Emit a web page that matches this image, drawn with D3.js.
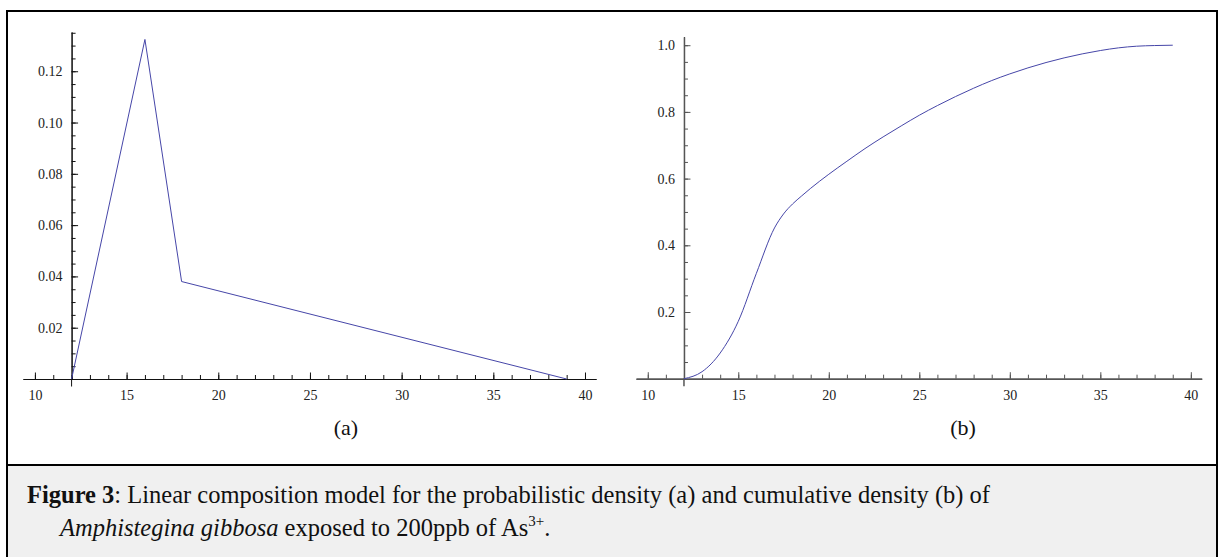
<!DOCTYPE html>
<html>
<head>
<meta charset="utf-8">
<script src="https://cdn.jsdelivr.net/npm/d3@7"></script>
<style>
  body { margin: 0; background: #fff; }
  svg { display: block; font-family: "Liberation Serif", "Times New Roman", serif; }
  .tick text { fill: #222; }
  .caption { font-family: "Liberation Serif", serif; fill: #111; }
</style>
</head>
<body>
<svg id="fig" width="1220" height="557"></svg>
<script>
// density (a): piecewise linear model
const densX = [12, 16, 18, 39];
const densY = [0, 0.1324, 0.038, 0];

// cumulative (b)
const cumX = [12, 13, 14, 15, 16, 17, 17.5, 18, 18.5, 19, 20, 21, 22, 23, 24, 25, 26, 27, 28, 29, 30, 31, 32, 33, 34, 35, 36, 37, 38, 39];
const cumY = [0, 0.021, 0.077, 0.172, 0.316, 0.452, 0.494, 0.524, 0.548, 0.571, 0.613, 0.652, 0.690, 0.725, 0.758, 0.790, 0.819, 0.846, 0.871, 0.894, 0.914, 0.932, 0.948, 0.962, 0.974, 0.984, 0.992, 0.997, 0.999, 1.0];

const xMajor = [10, 15, 20, 25, 30, 35, 40];
const densTicks = [0.02, 0.04, 0.06, 0.08, 0.10, 0.12];
const cumTicks = [0.2, 0.4, 0.6, 0.8, 1.0];

const svg = d3.select('#fig');

// caption background + frame
svg.append('rect')
  .attr('x', 7).attr('y', 465).attr('width', 1210).attr('height', 92)
  .attr('fill', '#f0f0f0');

const frame = svg.append('g').attr('stroke', '#000').attr('stroke-width', 2);
frame.append('line').attr('x1', 6).attr('x2', 1218).attr('y1', 11).attr('y2', 11);
frame.append('line').attr('x1', 7).attr('x2', 7).attr('y1', 10).attr('y2', 557);
frame.append('line').attr('x1', 1217).attr('x2', 1217).attr('y1', 10).attr('y2', 557);
frame.append('line').attr('x1', 6).attr('x2', 1218).attr('y1', 465).attr('y2', 465);

function panel(opt) {
  const x = d3.scaleLinear().domain([9.35, 40.6]).range(opt.xRange);
  const y = d3.scaleLinear().domain([0, opt.yMax]).range(opt.yRange);
  const g = svg.append('g');
  const y0 = y(0), x0 = x(12);

  // x axis: minor then major (ticks pointing up)
  g.append('g')
    .attr('transform', `translate(0,${y0})`)
    .call(d3.axisBottom(x).tickValues(d3.range(10, 41, 1)).tickSizeInner(-4).tickSizeOuter(0).tickFormat(''))
    .call(a => a.selectAll('line').attr('stroke', opt.axisColor));
  g.append('g')
    .attr('transform', `translate(0,${y0})`)
    .call(d3.axisBottom(x).tickValues(xMajor).tickSizeInner(-6.5).tickSizeOuter(0).tickPadding(11).tickFormat(d3.format('d')))
    .call(a => a.select('.domain').attr('stroke', opt.axisColor).attr('stroke-width', opt.axisWidth))
    .call(a => a.selectAll('line').attr('stroke', opt.axisColor))
    .call(a => a.selectAll('text').attr('font-size', 14).attr('font-family', 'Liberation Serif'));

  // y axis
  g.append('g')
    .attr('transform', `translate(${x0},0)`)
    .call(d3.axisLeft(y).tickValues(opt.minor).tickSizeInner(-4).tickSizeOuter(0).tickFormat(''))
    .call(a => a.selectAll('line').attr('stroke', opt.axisColor));
  g.append('g')
    .attr('transform', `translate(${x0},0)`)
    .call(d3.axisLeft(y).tickValues(opt.major).tickSizeInner(-6.5).tickSizeOuter(0).tickPadding(9).tickFormat(d3.format(opt.fmt)))
    .call(a => a.select('.domain').attr('stroke', opt.axisColor).attr('stroke-width', opt.axisWidth))
    .call(a => a.selectAll('line').attr('stroke', opt.axisColor))
    .call(a => a.selectAll('text').attr('font-size', 14).attr('font-family', 'Liberation Serif'));
  g.append('line')
    .attr('x1', x0).attr('x2', x0).attr('y1', y0).attr('y2', y0 + 7.5)
    .attr('stroke', opt.axisColor).attr('stroke-width', opt.axisWidth);

  const line = d3.line().x(d => x(d[0])).y(d => y(d[1])).curve(opt.curve);
  g.append('path')
    .datum(d3.zip(opt.xs, opt.ys))
    .attr('d', line)
    .attr('fill', 'none')
    .attr('stroke', '#4646a8')
    .attr('stroke-width', 1);

  svg.append('text')
    .attr('x', opt.labelX).attr('y', 435)
    .attr('text-anchor', 'middle')
    .attr('font-size', 22)
    .attr('fill', '#111')
    .text(opt.label);
}

panel({
  xRange: [23, 596], yRange: [379, 32], yMax: 0.1353,
  major: densTicks, minor: d3.range(0.005, 0.136, 0.005), fmt: '.2f',
  xs: densX, ys: densY, curve: d3.curveLinear,
  axisColor: '#111', axisWidth: 1, label: '(a)', labelX: 346
});
panel({
  xRange: [636, 1201.7], yRange: [378.7, 36.7], yMax: 1.0255,
  major: cumTicks, minor: d3.range(0.05, 1.001, 0.05), fmt: '.1f',
  xs: cumX, ys: cumY, curve: d3.curveMonotoneX,
  axisColor: '#555', axisWidth: 1.5, label: '(b)', labelX: 963
});

// caption
const capSize = 24.5;
const l1 = svg.append('text').attr('class', 'caption').attr('font-size', capSize).attr('x', 27).attr('y', 503);
l1.append('tspan').attr('font-weight', 'bold').text('Figure 3');
l1.append('tspan').text(': Linear composition model for the probabilistic density (a) and cumulative density (b) of');
const l2 = svg.append('text').attr('class', 'caption').attr('font-size', capSize).attr('x', 60).attr('y', 536);
l2.append('tspan').attr('font-style', 'italic').text('Amphistegina gibbosa');
l2.append('tspan').text(' exposed to 200ppb of As');
l2.append('tspan').attr('font-size', 15).attr('dy', -10).text('3+');
l2.append('tspan').attr('dy', 10).text('.');
</script>
</body>
</html>
